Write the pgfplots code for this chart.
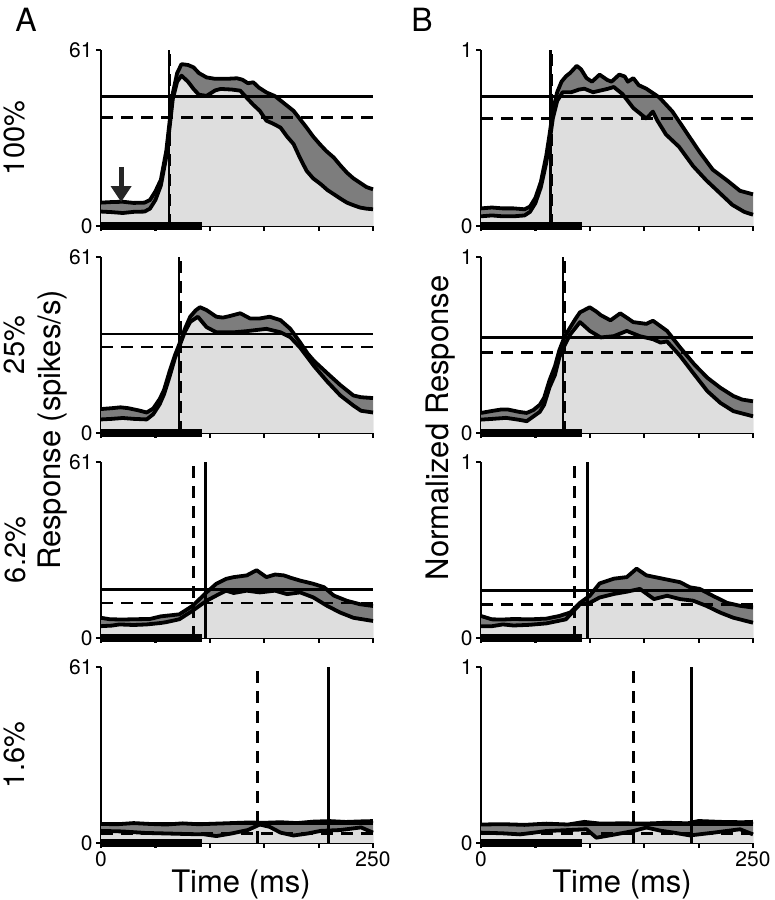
\documentclass[border=0pt]{standalone}
\usepackage{fontspec}
\setmainfont{TeX Gyre Heros}
\usepackage{pgfplots}
\usepackage{pgfplotstable}
\pgfplotsset{compat=1.18}
\usetikzlibrary{arrows.meta}
\definecolor{lightfill}{RGB}{222,222,222}
\definecolor{darkfill}{RGB}{125,125,125}

\pgfplotsset{
 panel/.style={
  scale only axis, width=272pt, height=176pt,
  xmin=0, xmax=250, ymin=0,
  axis x line=bottom, axis y line=left,
  axis line style={-, line width=2.8pt},
  xtick={0,50,100,150,200,250},
  tick align=outside, major tick length=5pt,
  tick style={line width=2.2pt, black},
  xticklabels={},
  clip=false,
  tick label style={font=\fontsize{21}{25}\selectfont},
  /pgf/number format/assume math mode=true,
 },
 bottomrow/.style={xticklabels={0,,,,,250}},
 up/.style={fill=darkfill, draw=none},
 lo/.style={fill=lightfill, draw=none},
 crv/.style={black, line width=3.8pt, line join=round},
 hs/.style={black, line width=2.8pt},
 hd/.style={black, line width=2.8pt, dash pattern=on 12pt off 8pt},
 bar/.style={black, line width=8pt},
}

% ---------- Column A (spikes/s) ----------
\pgfplotstableread{
t v
0 8.1
10 8.3
20 8.4
30 8.0
40 8.1
45 9
50 12
55 16
60 26
63 36
66 46
70 53
74 56.1
80 55.8
85 55
90 53
97 51.5
105 51
115 51
125 51.2
130 50.7
135 49.5
140 49.8
145 48
152 46.3
160 45
170 42
177 39.9
183 37
189 34.1
195 31
201 28.4
207 26
214 23.7
220 21
226 18.5
232 16.5
238 15.0
244 13.5
250 12.7
}\AoneU
\pgfplotstableread{
t v
0 5.0
10 4.8
20 4.5
30 4.9
40 5.0
45 6
50 9
55 14
60 24
63 34
66 44
70 50
74 52.1
80 50
85 47.5
90 45.5
97 45.1
105 47.0
110 47.5
120 47.3
128 46.9
135 44
140 42
146 39.9
152 36.5
158 35.5
165 34.1
171 31
177 28.4
183 23.5
189 19.1
195 16.5
202 14.5
208 12.5
214 11.0
220 9.5
226 8.1
232 7.2
238 6.4
244 6.0
250 5.8
}\AoneL
\pgfplotstableread{
t v
0 8.3
10 8.6
18 8.9
25 8.6
35 7.8
42 7.1
48 8.5
54 11.8
58 15
63 21.3
68 27
72 30.8
77 36
82 40.3
87 42.5
91 43.6
97 42.6
106 40.3
112 40
118 40.5
128 41.5
137 39.7
146 39.7
155 40.3
165 39.1
174 36.1
183 31.4
190 27.5
196 24.9
208 20.7
220 16.6
232 13.0
239 12.4
250 12.1
}\AtwoU
\pgfplotstableread{
t v
0 4.7
10 4.9
20 5.2
30 4.9
42 4.7
48 6.5
54 10
58 13.5
63 19.5
68 26
72 30
77 35
82 38.5
89 40.3
97 36.7
106 34.9
122 34.9
134 35.3
152 36.1
165 34.9
174 33.2
183 29.6
196 23.1
208 17.8
220 13.0
232 9.5
239 7.7
250 7.1
}\AtwoL
\pgfplotstableread{
t v
0 7.0
8 6.5
20 6.4
30 6.5
45 6.6
55 7.5
72 8.2
84 11.1
97 15.8
106 18.8
115 20.5
122 21.1
134 21.7
143 23.5
152 21.1
160 22
168 21.7
175 20.8
183 19.9
195 18.8
205 17.6
214 14.7
226 12.9
238 11.7
250 11.1
}\AthreeU
\pgfplotstableread{
t v
0 4.1
10 4.3
17 4.7
30 4.5
42 4.7
55 5.2
60 5.5
72 6.5
84 9.4
97 12.9
106 14.7
115 16.4
122 15.6
134 16.4
146 15.8
160 16.4
171 15.2
183 15.8
195 14.1
208 11.1
220 8.8
232 7.0
250 5.9
}\AthreeL
\pgfplotstableread{
t v
0 6.6
15 6.5
30 6.9
45 6.6
60 6.4
75 6.8
90 6.5
105 6.7
120 6.9
135 7.1
150 7.0
165 7.2
180 6.9
195 7.4
210 7.6
225 7.3
240 7.5
250 7.6
}\AfourU
\pgfplotstableread{
t v
0 4.2
20 4.0
40 3.5
60 3.3
80 3.1
95 3.0
106 2.4
120 3.3
135 4.5
146 6.4
155 5.6
165 3.6
177 2.6
190 3.3
202 4.2
220 4.5
239 5.4
250 3.6
}\AfourL

% ---------- Column B (normalized) ----------
\pgfplotstableread{
t v
0 0.10
10 0.105
20 0.10
30 0.10
40 0.095
45 0.11
50 0.16
55 0.25
60 0.40
63 0.52
66 0.65
70 0.76
74 0.82
78 0.85
82 0.87
88 0.91
92 0.89
97 0.84
102 0.82
109 0.86
116 0.83
120 0.82
127 0.86
132 0.85
135 0.82
140 0.84
145 0.80
152 0.78
164 0.73
176 0.65
189 0.53
201 0.42
213 0.32
226 0.26
238 0.20
250 0.18
}\BoneU
\pgfplotstableread{
t v
0 0.055
10 0.06
20 0.055
30 0.055
40 0.06
45 0.08
50 0.13
55 0.22
60 0.36
63 0.48
66 0.61
70 0.71
75 0.76
83 0.76
90 0.775
95 0.78
103 0.76
110 0.77
117 0.78
122 0.79
130 0.75
140 0.67
146 0.64
152 0.61
158 0.65
162 0.60
170 0.52
182 0.45
195 0.34
207 0.26
219 0.19
231 0.12
242 0.08
250 0.064
}\BoneL
\pgfplotstableread{
t v
0 0.114
10 0.125
18 0.133
25 0.133
35 0.12
42 0.114
48 0.13
54 0.16
58 0.2
63 0.3
68 0.38
72 0.47
77 0.55
82 0.6
87 0.65
91 0.686
100 0.714
106 0.69
110 0.67
119 0.64
128 0.68
140 0.63
152 0.62
158 0.638
171 0.58
183 0.486
196 0.39
208 0.314
220 0.257
232 0.21
240 0.19
250 0.18
}\BtwoU
\pgfplotstableread{
t v
0 0.076
10 0.08
23 0.086
35 0.075
42 0.067
54 0.12
58 0.16
63 0.26
68 0.33
72 0.43
77 0.5
82 0.56
91 0.63
100 0.58
110 0.543
122 0.55
134 0.58
146 0.55
158 0.533
165 0.514
171 0.52
183 0.438
196 0.333
208 0.238
220 0.171
232 0.124
250 0.095
}\BtwoL
\pgfplotstableread{
t v
0 0.125
10 0.106
20 0.105
30 0.108
45 0.106
60 0.11
72 0.125
82 0.145
91 0.2
100 0.24
109 0.31
122 0.337
134 0.346
143 0.394
152 0.356
167 0.337
183 0.317
192 0.288
201 0.279
213 0.24
226 0.2
238 0.183
250 0.173
}\BthreeU
\pgfplotstableread{
t v
0 0.067
10 0.067
20 0.077
30 0.071
45 0.075
60 0.083
78 0.106
91 0.192
100 0.2
109 0.23
122 0.25
134 0.263
146 0.279
159 0.221
171 0.24
183 0.221
195 0.212
207 0.183
220 0.144
232 0.115
250 0.087
}\BthreeL
\pgfplotstableread{
t v
0 0.105
20 0.107
40 0.103
60 0.11
80 0.105
95 0.12
110 0.11
130 0.112
150 0.11
170 0.115
190 0.112
200 0.125
220 0.12
240 0.118
250 0.12
}\BfourU
\pgfplotstableread{
t v
0 0.059
20 0.055
36 0.049
50 0.06
60 0.068
97 0.078
106 0.03
120 0.045
140 0.068
152 0.088
165 0.07
177 0.059
192 0.043
214 0.059
238 0.078
250 0.049
}\BfourL

\newcommand{\bands}[2]{%
  \addplot[up] table {#1} \closedcycle;
  \addplot[lo] table {#2} \closedcycle;
  \addplot[crv] table {#1};
  \addplot[crv] table {#2};
}

\begin{document}
\begin{tikzpicture}
\useasboundingbox (0pt,0pt) rectangle (775pt,900pt);

% ===== Column A =====
\begin{axis}[panel, at={(101pt,674pt)}, anchor=south west, ymax=61, ytick={0,61}]
  \bands{\AoneU}{\AoneL}
  \addplot[hs] coordinates {(0,44.8) (250,44.8)};
  \addplot[hd] coordinates {(0,37.6) (250,37.6)};
  \addplot[hs] coordinates {(62.5,0) (62.5,61)};
  \addplot[hd] coordinates {(63.5,0) (63.5,61)};
  \addplot[bar] coordinates {(0,0) (93,0)};
  \draw[black!85, line width=5pt, -{Triangle[width=20pt,length=16pt]}] (axis cs:18.5,20.5) -- (axis cs:18.5,8.3);
\end{axis}

\begin{axis}[panel, at={(101pt,467pt)}, anchor=south west, ymax=61, ytick={0,61}]
  \bands{\AtwoU}{\AtwoL}
  \addplot[hs] coordinates {(0,34.3) (250,34.3)};
  \addplot[hd] coordinates {(0,29.8) (250,29.8)};
  \addplot[hs] coordinates {(71.7,0) (71.7,61)};
  \addplot[hd] coordinates {(73.4,0) (73.4,61)};
  \addplot[bar] coordinates {(0,0) (93,0)};
\end{axis}

\begin{axis}[panel, at={(101pt,262pt)}, anchor=south west, ymax=61, ytick={0,61}]
  \bands{\AthreeU}{\AthreeL}
  \addplot[hs] coordinates {(0,16.8) (250,16.8)};
  \addplot[hd] coordinates {(0,12.1) (250,12.1)};
  \addplot[hd] coordinates {(84.7,0) (84.7,61)};
  \addplot[hs] coordinates {(96.4,0) (96.4,61)};
  \addplot[bar] coordinates {(0,0) (93,0)};
\end{axis}

\begin{axis}[panel, bottomrow, at={(101pt,57pt)}, anchor=south west, ymax=61, ytick={0,61}]
  \bands{\AfourU}{\AfourL}
  \addplot[hs] coordinates {(0,6.8) (250,6.8)};
  \addplot[hd] coordinates {(0,3.3) (250,3.3)};
  \addplot[hd] coordinates {(143.8,0) (143.8,61)};
  \addplot[hs] coordinates {(209.4,0) (209.4,61)};
  \addplot[bar] coordinates {(0,0) (93,0)};
\end{axis}

% ===== Column B =====
\begin{axis}[panel, at={(481pt,674pt)}, anchor=south west, ymax=1, ytick={0,1}]
  \bands{\BoneU}{\BoneL}
  \addplot[hs] coordinates {(0,0.737) (250,0.737)};
  \addplot[hd] coordinates {(0,0.61) (250,0.61)};
  \addplot[hs] coordinates {(64,0) (64,1)};
  \addplot[hd] coordinates {(65,0) (65,1)};
  \addplot[bar] coordinates {(0,0) (93,0)};
\end{axis}

\begin{axis}[panel, at={(481pt,467pt)}, anchor=south west, ymax=1, ytick={0,1}]
  \bands{\BtwoU}{\BtwoL}
  \addplot[hs] coordinates {(0,0.543) (250,0.543)};
  \addplot[hd] coordinates {(0,0.457) (250,0.457)};
  \addplot[hs] coordinates {(75.4,0) (75.4,1)};
  \addplot[hd] coordinates {(77,0) (77,1)};
  \addplot[bar] coordinates {(0,0) (93,0)};
\end{axis}

\begin{axis}[panel, at={(481pt,262pt)}, anchor=south west, ymax=1, ytick={0,1}]
  \bands{\BthreeU}{\BthreeL}
  \addplot[hs] coordinates {(0,0.269) (250,0.269)};
  \addplot[hd] coordinates {(0,0.192) (250,0.192)};
  \addplot[hd] coordinates {(86,0) (86,1)};
  \addplot[hs] coordinates {(97.6,0) (97.6,1)};
  \addplot[bar] coordinates {(0,0) (93,0)};
\end{axis}

\begin{axis}[panel, bottomrow, at={(481pt,57pt)}, anchor=south west, ymax=1, ytick={0,1}]
  \bands{\BfourU}{\BfourL}
  \addplot[hs] coordinates {(0,0.107) (250,0.107)};
  \addplot[hd] coordinates {(0,0.055) (250,0.055)};
  \addplot[hd] coordinates {(140,0) (140,1)};
  \addplot[hs] coordinates {(193.8,0) (193.8,1)};
  \addplot[bar] coordinates {(0,0) (93,0)};
\end{axis}

% ===== Labels =====
\node[font=\fontsize{32}{36}\selectfont] at (26pt,880pt) {A};
\node[font=\fontsize{32}{36}\selectfont] at (422pt,880pt) {B};

\node[font=\fontsize{29}{34}\selectfont, rotate=90, anchor=base] at (24pt,762pt) {100\%};
\node[font=\fontsize{29}{34}\selectfont, rotate=90, anchor=base] at (24pt,555pt) {25\%};
\node[font=\fontsize{29}{34}\selectfont, rotate=90, anchor=base] at (25pt,350pt) {6.2\%};
\node[font=\fontsize{29}{34}\selectfont, rotate=90, anchor=base] at (24pt,145pt) {1.6\%};

\node[font=\fontsize{31}{36}\selectfont, rotate=90, anchor=base] at (60pt,470pt) {Response (spikes/s)};
\node[font=\fontsize{31}{36}\selectfont, rotate=90, anchor=base] at (448pt,472pt) {Normalized Response};

\node[font=\fontsize{31}{36}\selectfont, anchor=base] at (241pt,8pt) {Time (ms)};
\node[font=\fontsize{31}{36}\selectfont, anchor=base] at (622pt,8pt) {Time (ms)};
\end{tikzpicture}
\end{document}
